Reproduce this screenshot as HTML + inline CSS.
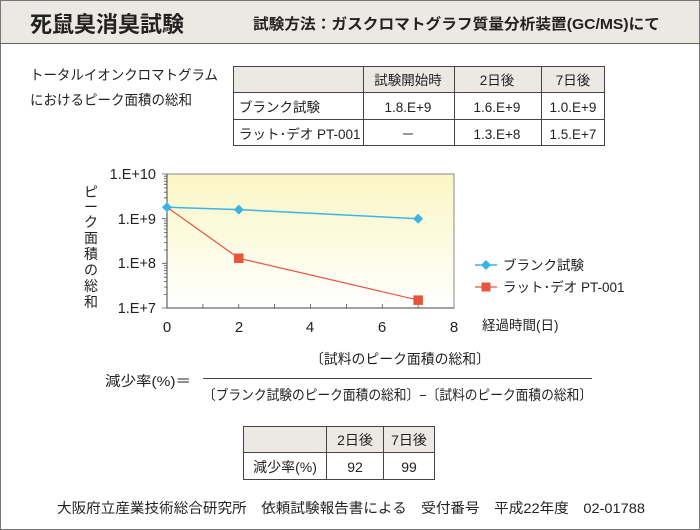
<!DOCTYPE html>
<html><head><meta charset="utf-8"><style>
body{margin:0;background:#fff}
svg{display:block}
text{font-family:"Liberation Sans","Noto Sans CJK JP",sans-serif;fill:#222}
</style></head><body>
<svg width="700" height="530" viewBox="0 0 700 530" xmlns="http://www.w3.org/2000/svg">
<defs><linearGradient id="g" x1="0" y1="0" x2="0" y2="1"><stop offset="0" stop-color="#fbf6c4"/><stop offset="1" stop-color="#ffffff"/></linearGradient></defs>
<rect x="0.5" y="0.5" width="699" height="529" fill="#fff" stroke="#777"/>
<rect x="1" y="1" width="698" height="42" fill="#ece8e4"/>
<line x1="0" y1="43.5" x2="700" y2="43.5" stroke="#666"/>
<text x="30" y="32" font-size="22" font-weight="bold">死鼠臭消臭試験</text>
<text x="253" y="29" font-size="15" font-weight="bold" fill="#333" textLength="407" lengthAdjust="spacingAndGlyphs">試験方法：ガスクロマトグラフ質量分析装置(GC/MS)にて</text>
<text x="30" y="80" font-size="14" textLength="188" lengthAdjust="spacingAndGlyphs">トータルイオンクロマトグラム</text>
<text x="30" y="105" font-size="14" textLength="162" lengthAdjust="spacingAndGlyphs">におけるピーク面積の総和</text>
<g stroke="#444" stroke-width="1">
<rect x="233.5" y="66.5" width="371" height="26" fill="#ece8e4"/>
<rect x="233.5" y="66.5" width="371" height="79" fill="none"/>
<line x1="233" y1="119.5" x2="605" y2="119.5"/>
<line x1="363.5" y1="66" x2="363.5" y2="146"/>
<line x1="454.5" y1="66" x2="454.5" y2="146"/>
<line x1="541.5" y1="66" x2="541.5" y2="146"/>
</g>
<g font-size="13.5" text-anchor="middle">
<text x="408" y="85">試験開始時</text><text x="497" y="85">2日後</text><text x="573" y="85">7日後</text>
<text x="408" y="112">1.8.E+9</text><text x="497" y="112">1.6.E+9</text><text x="573" y="112">1.0.E+9</text>
<text x="408" y="139">－</text><text x="497" y="139">1.3.E+8</text><text x="573" y="139">1.5.E+7</text>
</g>
<text x="239" y="112" font-size="13.5">ブランク試験</text>
<text x="239" y="139" font-size="13.5">ラット･デオ PT-001</text>
<!-- chart -->
<rect x="167" y="174" width="287" height="134" fill="url(#g)" stroke="#888"/>
<line x1="167" y1="174" x2="167" y2="308" stroke="#444"/>
<line x1="167" y1="308" x2="454" y2="308" stroke="#444"/>
<g stroke="#555" stroke-width="0.8">
<path d="M162 174h5M162 218.7h5M162 263.3h5M162 308h5"/>
<path d="M164 176.2h3M164 178.6h3M164 181.2h3M164 184.3h3M164 187.9h3M164 192.2h3M164 197.8h3M164 205.3h3
M164 220.9h3M164 223.3h3M164 225.9h3M164 229h3M164 232.6h3M164 236.9h3M164 242.5h3M164 250h3
M164 265.5h3M164 267.9h3M164 270.5h3M164 273.6h3M164 277.2h3M164 281.5h3M164 287.1h3M164 294.6h3"/>
<path d="M202.9 308v-4M238.8 308v-4M274.6 308v-4M310.5 308v-4M346.4 308v-4M382.3 308v-4M418.1 308v-4"/>
</g>
<g font-size="14.5" text-anchor="end">
<text x="156" y="179">1.E+10</text><text x="156" y="224">1.E+9</text><text x="156" y="268">1.E+8</text><text x="156" y="313">1.E+7</text>
</g>
<g font-size="15" text-anchor="middle">
<text x="167" y="332">0</text><text x="239" y="332">2</text><text x="310" y="332">4</text><text x="382" y="332">6</text><text x="454" y="332">8</text>
</g>
<g font-size="14" text-anchor="middle">
<text x="91" y="197">ピ</text><text x="91" y="212">ー</text><text x="91" y="227">ク</text><text x="91" y="243">面</text><text x="91" y="259">積</text><text x="91" y="275">の</text><text x="91" y="291">総</text><text x="91" y="307">和</text>
</g>
<text x="482" y="330" font-size="13.5">経過時間(日)</text>
<polyline points="167,207.3 238.8,209.6 418.1,218.7" fill="none" stroke="#3ab4e8" stroke-width="1.5"/>
<polyline points="167,207.3 238.8,258.2 418.1,300.1" fill="none" stroke="#e8553d" stroke-width="1.2"/>
<g fill="#3ab4e8"><path d="M167 202.3l5 5-5 5-5-5z"/><path d="M238.8 204.6l5 5-5 5-5-5z"/><path d="M418.1 213.7l5 5-5 5-5-5z"/></g>
<g fill="#e8553d"><rect x="234" y="253.5" width="9.5" height="9.5"/><rect x="413.4" y="295.4" width="9.5" height="9.5"/></g>
<line x1="475" y1="265" x2="497" y2="265" stroke="#3ab4e8" stroke-width="1.5"/>
<path d="M486 260l5 5-5 5-5-5z" fill="#3ab4e8"/>
<text x="503" y="270" font-size="13.5">ブランク試験</text>
<line x1="475" y1="287" x2="497" y2="287" stroke="#e8553d" stroke-width="1.2"/>
<rect x="481.5" y="282.5" width="9" height="9" fill="#e8553d"/>
<text x="503" y="292" font-size="13.5">ラット･デオ PT-001</text>
<!-- formula -->
<text x="105" y="386" font-size="14" textLength="86" lengthAdjust="spacingAndGlyphs">減少率(%)＝</text>
<line x1="203" y1="378.5" x2="592" y2="378.5" stroke="#444"/>
<text x="310" y="364" font-size="14" textLength="180" lengthAdjust="spacingAndGlyphs">〔試料のピーク面積の総和〕</text>
<text x="203" y="400" font-size="14" textLength="389" lengthAdjust="spacingAndGlyphs">〔ブランク試験のピーク面積の総和〕−〔試料のピーク面積の総和〕</text>
<g stroke="#444">
<rect x="243.5" y="426.5" width="191" height="26" fill="#ece8e4"/>
<rect x="243.5" y="426.5" width="191" height="53" fill="none"/>
<line x1="326.5" y1="426" x2="326.5" y2="480"/>
<line x1="383.5" y1="426" x2="383.5" y2="480"/>
</g>
<g font-size="14" text-anchor="middle">
<text x="355" y="445">2日後</text><text x="409" y="445">7日後</text>
<text x="285" y="472" fill="#444">減少率(%)</text><text x="355" y="472">92</text><text x="409" y="472">99</text>
</g>
<text x="57" y="513" font-size="14" textLength="588" lengthAdjust="spacingAndGlyphs">大阪府立産業技術総合研究所　依頼試験報告書による　受付番号　平成22年度　02-01788</text>
</svg>
</body></html>
